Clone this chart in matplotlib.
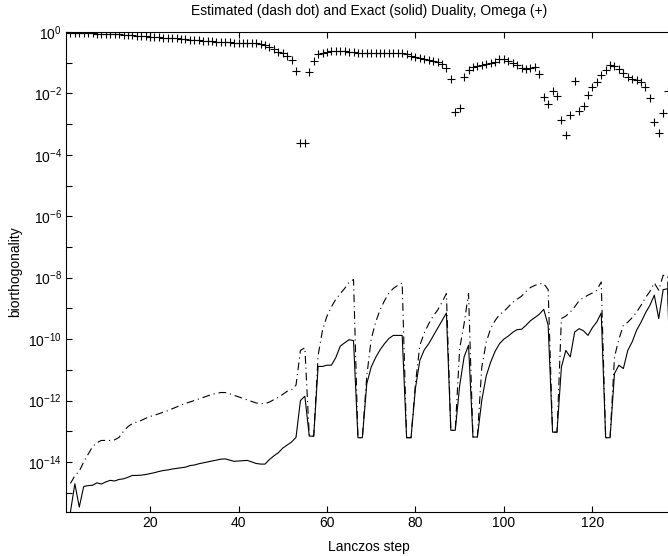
import numpy as np
import matplotlib
matplotlib.use("Agg")
import matplotlib.pyplot as plt
from matplotlib.ticker import FixedLocator, FuncFormatter

plt.rcParams["font.family"] = ["Liberation Sans", "DejaVu Sans"]
plt.rcParams["mathtext.fontset"] = "custom"
plt.rcParams["mathtext.rm"] = "Liberation Sans"
plt.rcParams["mathtext.it"] = "Liberation Sans"

# Lanczos steps 2..138
steps = list(range(2, 139))

# log10 of omega (+ markers)
omega_log = [
    -0.02, -0.02, -0.03, -0.03, -0.04, -0.04, -0.05, -0.05, -0.06,          # 2-10
    -0.07, -0.07, -0.08, -0.09, -0.10, -0.11, -0.12, -0.13, -0.14, -0.15,   # 11-20
    -0.16, -0.17, -0.18, -0.19, -0.20, -0.21, -0.22, -0.24, -0.25, -0.26,   # 21-30
    -0.27, -0.28, -0.29, -0.30, -0.31, -0.32, -0.33, -0.34, -0.35, -0.35,   # 31-40
    -0.36, -0.36, -0.36, -0.37, -0.39, -0.43, -0.48, -0.56, -0.64, -0.70,   # 41-50
    -0.78, -0.91, -1.26, -3.60, -3.60, -1.29, -0.93, -0.73, -0.68, -0.65,   # 51-60
    -0.63, -0.62, -0.62, -0.63, -0.64, -0.66, -0.67, -0.68, -0.69, -0.69,   # 61-70
    -0.69, -0.69, -0.69, -0.69, -0.69, -0.68, -0.68, -0.72, -0.78, -0.82,   # 71-80
    -0.85, -0.88, -0.90, -0.93, -0.97, -1.05, -1.16, -1.54, -2.60, -2.49,   # 81-90
    -1.46, -1.24, -1.15, -1.11, -1.08, -1.04, -1.02, -0.97, -0.89, -0.88,   # 91-100
    -0.93, -1.00, -1.08, -1.18, -1.22, -1.18, -1.15, -1.37, -2.13, -2.35,   # 101-110
    -1.91, -2.09, -2.85, -3.36, -2.71, -1.59, -2.56, -2.41, -2.05, -1.78,   # 111-120
    -1.62, -1.40, -1.24, -1.08, -1.12, -1.22, -1.35, -1.48, -1.52, -1.56,   # 121-130
    -1.62, -1.80, -2.16, -2.92, -3.28, -2.65, -1.91, -1.29,                 # 131-138
]

# log10 of estimated duality (dash dot)
estimated_log = [
    -14.70, -14.45, -14.30, -14.00, -13.75, -13.50, -13.37, -13.30, -13.30,  # 2-10
    -13.30, -13.28, -13.20, -13.00, -12.85, -12.75, -12.70, -12.65, -12.58, -12.52,  # 11-20
    -12.48, -12.43, -12.38, -12.33, -12.27, -12.21, -12.15, -12.09, -12.05, -12.00,  # 21-30
    -11.95, -11.90, -11.85, -11.80, -11.77, -11.74, -11.74, -11.78, -11.83, -11.88,  # 31-40
    -11.93, -11.98, -12.03, -12.08, -12.10, -12.10, -12.05, -11.97, -11.90, -11.80,  # 41-50
    -11.70, -11.65, -11.50, -10.37, -10.28, -13.16, -13.16, -10.53, -9.70, -9.25,    # 51-60
    -8.95, -8.70, -8.52, -8.35, -8.15, -8.06, -13.21, -13.21, -11.20, -10.00,        # 61-70
    -9.45, -9.05, -8.75, -8.50, -8.35, -8.25, -8.17, -13.21, -13.21, -11.45,         # 71-80
    -10.20, -9.80, -9.50, -9.25, -9.06, -8.80, -8.52, -12.97, -12.97, -10.30,        # 81-90
    -9.50, -8.52, -13.19, -13.19, -10.91, -10.10, -9.66, -9.40, -9.20, -9.10,        # 91-100
    -8.95, -8.80, -8.70, -8.60, -8.45, -8.32, -8.25, -8.20, -8.19, -8.39,            # 101-110
    -13.03, -13.03, -9.33, -9.25, -9.12, -8.95, -8.75, -8.65, -8.57, -8.50,          # 111-120
    -8.41, -8.14, -13.21, -13.21, -10.58, -10.00, -9.55, -9.45, -9.30, -9.12,        # 121-130
    -8.90, -8.65, -8.45, -8.17, -8.41, -7.92, -7.95, -13.20,                         # 131-138
]

# log10 of exact duality (solid)
exact_log = [
    -15.63, -14.71, -15.47, -14.80, -14.77, -14.76, -14.68, -14.72, -14.65,  # 2-10
    -14.60, -14.62, -14.57, -14.55, -14.50, -14.44, -14.44, -14.43, -14.41, -14.38,  # 11-20
    -14.35, -14.31, -14.28, -14.26, -14.23, -14.21, -14.19, -14.17, -14.12, -14.10,  # 21-30
    -14.06, -14.03, -14.00, -13.97, -13.94, -13.91, -13.90, -13.94, -13.98, -13.97,  # 31-40
    -13.96, -13.95, -14.00, -14.05, -14.07, -14.07, -13.92, -13.80, -13.70, -13.55,  # 41-50
    -13.45, -13.35, -13.20, -12.00, -11.86, -13.16, -13.16, -10.89, -10.89, -10.85,  # 51-60
    -10.85, -10.60, -10.23, -10.12, -10.02, -10.05, -13.21, -13.21, -11.45, -10.91,  # 61-70
    -10.60, -10.35, -10.15, -9.98, -9.88, -9.88, -9.88, -13.21, -13.21, -11.60,      # 71-80
    -10.69, -10.35, -10.15, -9.90, -9.65, -9.40, -9.15, -12.97, -12.97, -11.51,      # 81-90
    -10.58, -10.20, -13.19, -13.19, -11.99, -11.20, -10.75, -10.40, -10.15, -10.00,  # 91-100
    -9.90, -9.78, -9.69, -9.68, -9.55, -9.40, -9.30, -9.19, -9.03, -9.55,            # 101-110
    -13.03, -13.03, -10.91, -10.37, -10.58, -9.77, -9.66, -9.73, -9.88, -9.63,       # 111-120
    -9.44, -9.15, -13.21, -13.21, -11.12, -10.85, -10.96, -10.37, -10.09, -9.71,     # 121-130
    -9.45, -9.15, -8.90, -8.57, -9.33, -8.39, -8.36, -13.20,                         # 131-138
]


def main():
    fig = plt.figure(figsize=(6.68, 5.56), dpi=100)
    # right edge of the axes sits just past the figure edge, as in the reference
    ax = fig.add_axes([66 / 668, 44 / 556, 606 / 668, 480 / 556])

    x = np.array(steps)
    ax.plot(x, 10.0 ** np.array(estimated_log), color="black", linewidth=0.8,
            linestyle=(0, (7, 3.5, 1, 3.5)))
    ax.plot(x, 10.0 ** np.array(exact_log), color="black", linewidth=0.8)
    ax.plot(x, 10.0 ** np.array(omega_log), linestyle="none", marker="+",
            color="black", markersize=6, markeredgewidth=0.8)

    ax.set_yscale("log")
    ax.set_xlim(1, 138)
    ax.set_ylim(10 ** -15.63, 1)

    ax.yaxis.set_major_locator(FixedLocator([10.0 ** e for e in range(-15, 1)]))
    ax.yaxis.set_minor_locator(FixedLocator([]))
    ax.yaxis.set_major_formatter(FuncFormatter(
        lambda v, pos: "" if round(np.log10(v)) % 2 else
        r"$10^{%d}$" % round(np.log10(v))))
    ax.set_xticks([20, 40, 60, 80, 100, 120])

    ax.tick_params(direction="in", top=True, right=False, length=4,
                   width=0.8, labelsize=10, pad=3)
    for s in ax.spines.values():
        s.set_linewidth(0.8)
    ax.spines["right"].set_visible(False)

    ax.set_title("Estimated (dash dot) and Exact (solid) Duality, Omega (+)",
                 fontsize=10, pad=12)
    ax.set_xlabel("Lanczos step", fontsize=10, labelpad=7)
    ax.set_ylabel("biorthogonality", fontsize=10, labelpad=4)

    fig.savefig("out.png", dpi=100)
    plt.close(fig)


if __name__ == "__main__":
    main()
